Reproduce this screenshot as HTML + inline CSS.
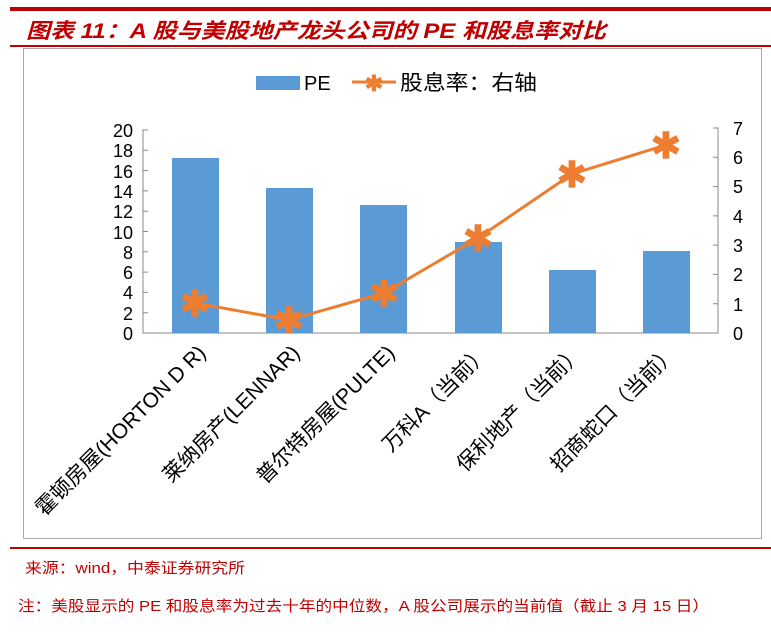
<!DOCTYPE html><html><head><meta charset="utf-8"><style>
body{margin:0;width:771px;height:628px;background:#fff;overflow:hidden;font-family:"Liberation Sans","Noto Sans CJK SC",sans-serif}
</style></head><body>
<svg width="771" height="628" xmlns="http://www.w3.org/2000/svg" font-family="Liberation Sans, Noto Sans CJK SC, sans-serif">
<rect x="10" y="7" width="761" height="4" fill="#c00000"/>
<text x="26" y="38" font-size="21" font-weight="bold" font-style="italic" fill="#c00000" textLength="580" lengthAdjust="spacingAndGlyphs">图表 11：A 股与美股地产龙头公司的 PE 和股息率对比</text>
<rect x="10" y="45" width="761" height="2" fill="#c00000"/>
<rect x="23.5" y="48.5" width="738" height="490" fill="none" stroke="#aaa"/>
<rect x="256" y="76" width="44" height="14" fill="#5b9bd5"/>
<text x="304" y="90" font-size="20">PE</text>
<line x1="352" y1="82" x2="396" y2="82" stroke="#ed7d31" stroke-width="3"/>
<text x="374" y="91" font-size="22" text-anchor="middle" fill="#ed7d31" font-weight="bold">✱</text>
<text x="400" y="90" font-size="21" textLength="137" lengthAdjust="spacingAndGlyphs">股息率：右轴</text>
<g font-size="18" text-anchor="end">
<text x="133" y="137">20</text><text x="133" y="157">18</text><text x="133" y="178">16</text><text x="133" y="198">14</text><text x="133" y="218">12</text><text x="133" y="239">10</text><text x="133" y="259">8</text><text x="133" y="279">6</text><text x="133" y="299">4</text><text x="133" y="320">2</text><text x="133" y="340">0</text>
</g>
<g font-size="18">
<text x="733" y="135">7</text><text x="733" y="164">6</text><text x="733" y="193">5</text><text x="733" y="223">4</text><text x="733" y="252">3</text><text x="733" y="281">2</text><text x="733" y="311">1</text><text x="733" y="340">0</text>
</g>
<path d="M148 130 H143 V333 H148 M143 150.3H148 M143 170.6H148 M143 190.9H148 M143 211.2H148 M143 231.5H148 M143 251.8H148 M143 272.1H148 M143 292.4H148 M143 312.7H148" fill="none" stroke="#888"/>
<path d="M713 128 H718 V333 H713 M718 157.3H713 M718 186.6H713 M718 215.9H713 M718 245.1H713 M718 274.4H713 M718 303.7H713" fill="none" stroke="#888"/>
<line x1="143" y1="333" x2="718" y2="333" stroke="#888"/>
<g fill="#5b9bd5">
<rect x="172" y="158" width="47" height="175"/>
<rect x="266" y="188" width="47" height="145"/>
<rect x="360" y="205" width="47" height="128"/>
<rect x="455" y="242" width="47" height="91"/>
<rect x="549" y="270" width="47" height="63"/>
<rect x="643" y="251" width="47" height="82"/>
</g>
<polyline points="195,303 289,320 384,293 478,238 572,174 666,145" fill="none" stroke="#ed7d31" stroke-width="3"/>
<g fill="#ed7d31" font-size="36" text-anchor="middle" font-weight="bold">
<text x="195" y="316">✱</text><text x="289" y="333">✱</text><text x="384" y="306">✱</text><text x="478" y="251">✱</text><text x="572" y="187">✱</text><text x="666" y="158">✱</text>
</g>
<g font-size="21" text-anchor="end">
<text transform="translate(207,354) rotate(-45)">霍顿房屋(HORTON D R)</text>
<text transform="translate(301,354) rotate(-45)">莱纳房产(LENNAR)</text>
<text transform="translate(396,354) rotate(-45)">普尔特房屋(PULTE)</text>
<text transform="translate(490,354) rotate(-45)">万科A（当前）</text>
<text transform="translate(584,354) rotate(-45)">保利地产（当前）</text>
<text transform="translate(678,354) rotate(-45)">招商蛇口（当前）</text>
</g>
<rect x="10" y="547" width="761" height="2" fill="#c00000"/>
<text x="25" y="573" font-size="15" fill="#c00000" textLength="220" lengthAdjust="spacingAndGlyphs">来源：wind，中泰证券研究所</text>
<text x="18" y="611" font-size="15" fill="#c00000" textLength="691" lengthAdjust="spacingAndGlyphs">注：美股显示的 PE 和股息率为过去十年的中位数，A 股公司展示的当前值（截止 3 月 15 日）</text>
</svg>
</body></html>
